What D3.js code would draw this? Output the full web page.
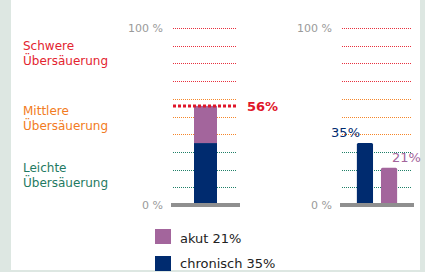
<!DOCTYPE html>
<html><head><meta charset="utf-8">
<script src="https://cdn.jsdelivr.net/npm/d3@7"></script>
<style>
html,body{margin:0;padding:0;background:#fff;}
svg{display:block;font-family:"DejaVu Sans",Verdana,sans-serif;}
</style></head>
<body><svg id="c" width="425" height="272"></svg>
<script>
const categories = ["akut", "chronisch"];
const values = [21, 35];
const barOrderRight = ["chronisch", "akut"];
const gridValues = [10, 20, 30, 40, 50, 60, 70, 80, 90, 100];
const tickLabels = ["100 %", "0 %"];
const tickValues = [100, 0];
const zoneNames = [["Schwere", "Übersäuerung"], ["Mittlere", "Übersäuerung"], ["Leichte", "Übersäuerung"]];
const zoneMin = [70, 40, 10];
const legendLabels = ["akut 21%", "chronisch 35%"];

const colors = {akut: "#a3659c", chronisch: "#002b6f"};
const zoneText = ["#e3242f", "#f27b22", "#1f7a62"];
const zoneGrid = ["#e8303e", "#f5862a", "#1f8068"];

const svg = d3.select("#c");
// frame
svg.append("rect").attr("x",0).attr("y",0).attr("width",11).attr("height",272).attr("fill","#dde7e2");
svg.append("rect").attr("x",420).attr("y",0).attr("width",5).attr("height",272).attr("fill","#dde7e2");
svg.append("rect").attr("x",11).attr("y",270).attr("width",409).attr("height",2).attr("fill","#dde7e2");

const y = d3.scaleLinear().domain([0, 100]).range([205, 28]);
const zoneOf = v => zoneMin.findIndex(m => v >= m);

// zone labels
zoneNames.forEach((lines, i) => {
  const base = [50, 115, 172][i];
  const t = svg.append("text").attr("x", 23).attr("y", base).attr("fill", zoneText[i])
    .style("font-size", "12px");
  lines.forEach((l, j) => t.append("tspan").attr("x", 23).attr("y", base + j * 15).text(l));
});

function panel(x0, x1, tickX) {
  const g = svg.append("g");
  g.selectAll("line.grid").data(gridValues).join("line")
    .attr("x1", x0).attr("x2", x1)
    .attr("y1", d => Math.round(y(d)) + 0.5).attr("y2", d => Math.round(y(d)) + 0.5)
    .attr("stroke", d => zoneGrid[zoneOf(d)]).attr("stroke-width", 1)
    .attr("stroke-dasharray", "1,1");
  g.selectAll("text.tick").data(tickValues).join("text")
    .attr("x", tickX).attr("y", d => y(d) + 4).attr("text-anchor", "end")
    .attr("fill", "#9a9a9a").style("font-size", "11px")
    .text((d, i) => tickLabels[i]);
  return g;
}

// left panel
const gl = panel(173, 237, 163);
const xl = d3.scaleBand().domain(["total"]).range([171, 240]).paddingInner(0).paddingOuter(1);
let acc = 0;
const stackOrder = ["chronisch", "akut"];
stackOrder.forEach(c => {
  const v = values[categories.indexOf(c)];
  gl.append("rect").attr("x", xl("total")).attr("width", xl.bandwidth())
    .attr("y", y(acc + v)).attr("height", y(acc) - y(acc + v)).attr("fill", colors[c]);
  acc += v;
});
gl.append("line").attr("x1", 171).attr("x2", 240).attr("y1", y(0)).attr("y2", y(0))
  .attr("stroke", "#8f8f8f").attr("stroke-width", 4);
const total = d3.sum(values);
gl.append("line").attr("x1", 173).attr("x2", 238).attr("y1", y(total)).attr("y2", y(total))
  .attr("stroke", "#e0162a").attr("stroke-width", 3).attr("stroke-dasharray", "3,2");
gl.append("text").attr("x", 247).attr("y", y(total) + 5).attr("fill", "#e0162a")
  .style("font-size", "13px").style("font-weight", "bold").text(total + "%");

// right panel
const gr = panel(342, 411, 332);
const xr = d3.scaleBand().domain(barOrderRight).range([340, 414]).paddingInner(0.33).paddingOuter(0.7);
barOrderRight.forEach(c => {
  const v = values[categories.indexOf(c)];
  gr.append("rect").attr("x", xr(c)).attr("width", xr.bandwidth())
    .attr("y", y(v)).attr("height", y(0) - y(v) + 2).attr("rx", 1.5).attr("fill", colors[c]);
});
gr.append("line").attr("x1", 340).attr("x2", 414).attr("y1", y(0)).attr("y2", y(0))
  .attr("stroke", "#8f8f8f").attr("stroke-width", 4);
gr.append("text").attr("x", 360).attr("y", y(35) - 6)
  .attr("text-anchor", "end").attr("fill", colors.chronisch).style("font-size", "13px").text("35%");
gr.append("text").attr("x", 392).attr("y", y(21) - 6)
  .attr("fill", colors.akut).style("font-size", "13px").text("21%");

// legend
legendLabels.forEach((l, i) => {
  const c = categories[i];
  svg.append("rect").attr("x", 155).attr("y", 229 + i * 27).attr("width", 16).attr("height", 15).attr("fill", colors[c]);
  svg.append("text").attr("x", 180).attr("y", 243 + i * 25).attr("fill", "#222")
    .style("font-size", "13px").text(l);
});
</script></body></html>
